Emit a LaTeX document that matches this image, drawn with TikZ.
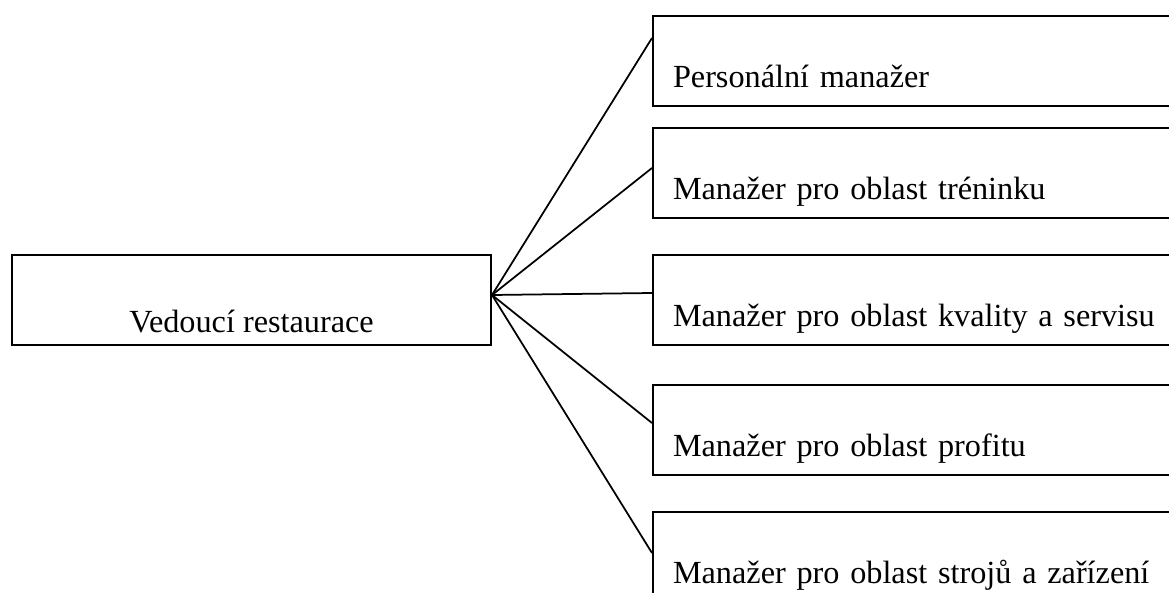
\documentclass[tikz,border=0pt]{standalone}
\usepackage{fontspec}
\setmainfont{Liberation Serif}
\tikzset{
  box/.style={draw,line width=.8pt,inner sep=0pt,anchor=north west,font=\fontsize{12.9}{15}\selectfont},
  headbox/.style={box,minimum width=191.6pt,text height=30.8pt,text depth=5.2pt},
  rolebox/.style={box,inner xsep=8pt,text width=200pt,align=left,text height=28.4pt,text depth=7.6pt},
  link/.style={line width=.7pt}
}
\begin{document}
\begin{tikzpicture}[x=.4pt,y=-.4pt]
\clip (0,0) rectangle (1169,593);
\node[headbox] (boss) at (11,254) {Vedoucí restaurace};
\node[rolebox] (hr) at (652,15) {Personální manažer};
\node[rolebox] (train) at (652,127) {Manažer pro oblast tréninku};
\node[rolebox] (qual) at (652,254) {Manažer pro oblast kvality a servisu};
\node[rolebox] (profit) at (652,384) {Manažer pro oblast profitu};
\node[rolebox] (equip) at (652,511) {Manažer pro oblast strojů a zařízení};

\draw[link] ([yshift=2pt]boss.east)--([yshift=-9.2pt]hr.north west);
\draw[link] ([yshift=2pt]boss.east)--([yshift=-16.4pt]train.north west);
\draw[link] ([yshift=2pt]boss.east)--([yshift=-15.6pt]qual.north west);
\draw[link] ([yshift=2pt]boss.east)--([yshift=-15.6pt]profit.north west);
\draw[link] ([yshift=2pt]boss.east)--([yshift=-16.8pt]equip.north west);

\end{tikzpicture}
\end{document}
